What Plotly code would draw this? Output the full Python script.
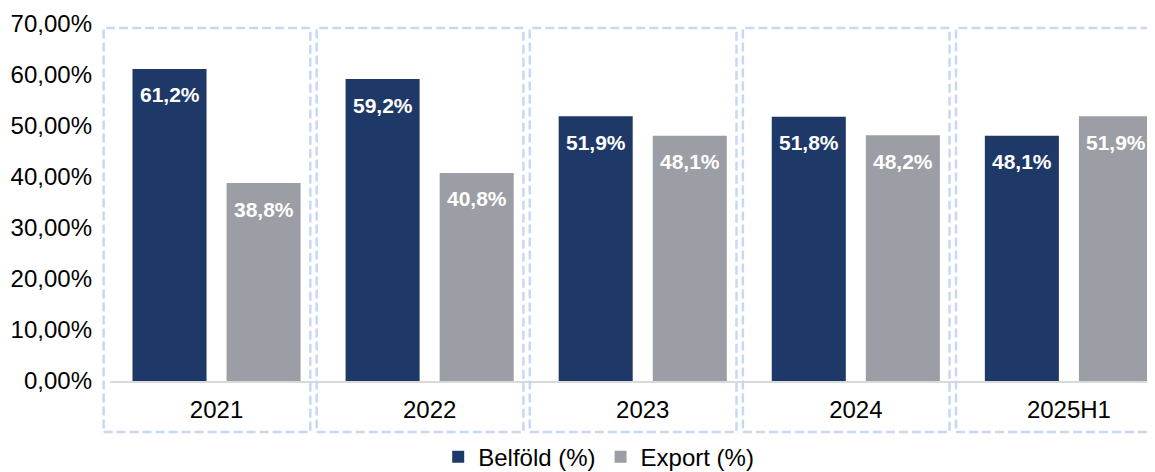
import plotly.graph_objects as go

years = ["2021", "2022", "2023", "2024", "2025H1"]
belfold = [61.2, 59.2, 51.9, 51.8, 48.1]
export = [38.8, 40.8, 48.1, 48.2, 51.9]
series_names = ["Belföld (%)", "Export (%)"]

NAVY = "#1E3868"
GREY = "#9C9EA5"
BOX = "#C8D8F2"
FONT = "Liberation Sans, Arial, sans-serif"

# the page body keeps its default 8px margin, so the figure is a bit smaller
W, H = 1147, 464
L, R, T, B = 102, 0, 16, 91
x_range = [-0.5, 4.404]
y_range = [0, 70]


def fmt(v):
    return f"{v:.1f}".replace(".", ",") + "%"


def paper_x(d):
    return (d - x_range[0]) / (x_range[1] - x_range[0])


fig = go.Figure()
fig.add_trace(go.Bar(x=years, y=belfold, name=series_names[0], marker_color=NAVY,
                     marker_line_width=0))
fig.add_trace(go.Bar(x=years, y=export, name=series_names[1], marker_color=GREY,
                     marker_line_width=0))

# value labels, placed a bit below the top of each bar
for i in range(len(years)):
    for vals, shift in ((belfold, -47), (export, 47)):
        fig.add_annotation(x=i, y=vals[i], text=f"<b>{fmt(vals[i])}</b>",
                           showarrow=False, xshift=shift, yshift=-26,
                           font=dict(family=FONT, size=21, color="white"))

# dashed frames around each year
for i in range(len(years)):
    fig.add_shape(type="rect", xref="paper", yref="paper",
                  x0=paper_x(i - 0.53), x1=paper_x(i + 0.44),
                  y0=-0.143, y1=0.989,
                  line=dict(color=BOX, width=2.5, dash="9px,4px"),
                  fillcolor="rgba(0,0,0,0)", layer="above")

fig.update_layout(
    width=W, height=H,
    margin=dict(l=L, r=R, t=T, b=B, autoexpand=False),
    plot_bgcolor="white", paper_bgcolor="white",
    barmode="group", bargap=0.117, bargroupgap=0.213,
    separators=",.",
    font=dict(family=FONT, size=24, color="#000000"),
    showlegend=True,
    legend=dict(orientation="h", xref="container", x=0.515, xanchor="center",
                yref="container", y=0.032, yanchor="middle",
                font=dict(size=24), itemwidth=30, tracegroupgap=0),
)
fig.update_xaxes(type="category", range=x_range, showgrid=False, showline=True,
                 linecolor="#D9D9D9", linewidth=2, ticks="", ticklabelstandoff=6,
                 tickfont=dict(size=24))
fig.update_yaxes(range=y_range, dtick=10, showgrid=False, zeroline=False, ticks="",
                 tickformat=".2f", ticksuffix="%", ticklabelstandoff=17,
                 tickfont=dict(size=24))

fig.write_html("out.html")
